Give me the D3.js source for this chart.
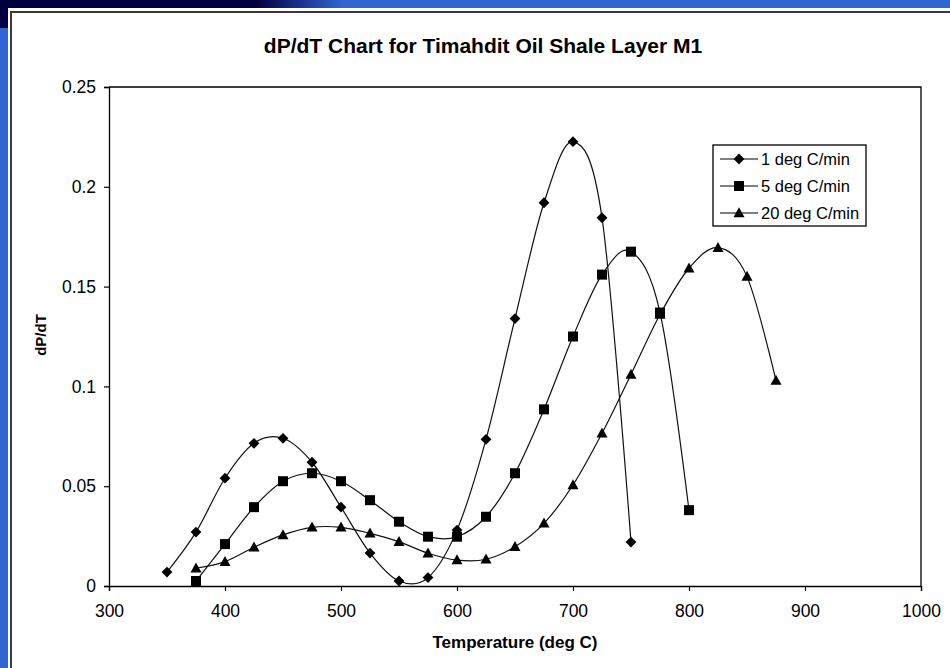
<!DOCTYPE html>
<html>
<head>
<meta charset="utf-8">
<script src="https://cdn.jsdelivr.net/npm/d3@7/dist/d3.min.js"></script>
<style>
  html, body { margin: 0; padding: 0; background: #fff; }
  svg { display: block; }
  text { font-family: "Liberation Sans", Arial, sans-serif; fill: #000; }
</style>
</head>
<body>
<svg id="chart" width="950" height="668"></svg>
<script>
// ---- data ----
const chartTitle = "dP/dT Chart for Timahdit Oil Shale Layer M1";
const xTitle = "Temperature (deg C)";
const yTitle = "dP/dT";
const seriesNames = ["1 deg C/min", "5 deg C/min", "20 deg C/min"];

const temps1 = [350, 375, 400, 425, 450, 475, 500, 525, 550, 575, 600, 625, 650, 675, 700, 725, 750];
const rate1  = [0.007, 0.027, 0.054, 0.0715, 0.074, 0.062, 0.0395, 0.0165, 0.0025, 0.0042, 0.028, 0.0735, 0.134, 0.192, 0.2226, 0.1845, 0.022];

const temps2 = [375, 400, 425, 450, 475, 500, 525, 550, 575, 600, 625, 650, 675, 700, 725, 750, 775, 800];
const rate2  = [0.0025, 0.021, 0.0395, 0.0525, 0.0565, 0.0525, 0.043, 0.0322, 0.0247, 0.0247, 0.0347, 0.0565, 0.0885, 0.125, 0.156, 0.1675, 0.137, 0.038];

const temps3 = [375, 400, 425, 450, 475, 500, 525, 550, 575, 600, 625, 650, 675, 700, 725, 750, 775, 800, 825, 850, 875];
const rate3  = [0.0089, 0.0122, 0.0194, 0.0256, 0.0294, 0.0294, 0.0264, 0.0222, 0.0164, 0.013, 0.0134, 0.0197, 0.0314, 0.0506, 0.0765, 0.106, 0.136, 0.1592, 0.1695, 0.155, 0.103];

const xTicks = [300, 400, 500, 600, 700, 800, 900, 1000];
const yTicks = [0, 0.05, 0.1, 0.15, 0.2, 0.25];
const yTickLabels = ["0", "0.05", "0.1", "0.15", "0.2", "0.25"];

// ---- drawing ----
const svg = d3.select("#chart");
const FONT = "'Liberation Sans', Arial, sans-serif";

// slide background
svg.append("rect").attr("x", 0).attr("y", 0).attr("width", 950).attr("height", 668).attr("fill", "#3165d0");
const defs = svg.append("defs");
const grad = defs.append("linearGradient").attr("id", "band").attr("x1", "0").attr("x2", "1").attr("y1", "0").attr("y2", "0");
grad.append("stop").attr("offset", "0").attr("stop-color", "#000040");
grad.append("stop").attr("offset", "0.27").attr("stop-color", "#000040");
grad.append("stop").attr("offset", "0.36").attr("stop-color", "#3165d0");
grad.append("stop").attr("offset", "1").attr("stop-color", "#3165d0");
svg.append("rect").attr("x", 0).attr("y", 0).attr("width", 950).attr("height", 8).attr("fill", "url(#band)");
svg.append("rect").attr("x", 0).attr("y", 0).attr("width", 8).attr("height", 28).attr("fill", "#000040");

// chart area
svg.append("rect").attr("x", 8).attr("y", 8).attr("width", 942).attr("height", 660).attr("fill", "#fff");
svg.append("rect").attr("x", 11).attr("y", 12).attr("width", 960).attr("height", 700)
  .attr("fill", "none").attr("stroke", "#3a3a3a").attr("stroke-width", 2);

const pLeft = 109, pRight = 921, pTop = 87, pBottom = 586;
const x = d3.scaleLinear().domain([300, 1000]).range([pLeft, pRight]);
const y = d3.scaleLinear().domain([0, 0.25]).range([pBottom, pTop]);

// plot frame (top & right)
svg.append("path")
  .attr("d", `M${pLeft},${pTop}H${pRight}V${pBottom}`)
  .attr("fill", "none").attr("stroke", "#000").attr("stroke-width", 1.3);

// axes
const yAxis = svg.append("g").attr("transform", `translate(${pLeft},0)`)
  .call(d3.axisLeft(y).tickValues(yTicks).tickSize(5).tickPadding(8)
    .tickFormat((d, i) => yTickLabels[i]));
const xAxis = svg.append("g").attr("transform", `translate(0,${pBottom})`)
  .call(d3.axisBottom(x).tickValues(xTicks).tickSize(5).tickPadding(14)
    .tickFormat(d3.format("d")));
[yAxis, xAxis].forEach(g => {
  g.select(".domain").attr("stroke", "#000").attr("stroke-width", 1.3);
  g.selectAll(".tick line").attr("stroke", "#000").attr("stroke-width", 1.2);
  g.selectAll("text").style("font-family", FONT).style("font-size", "17.5px").attr("fill", "#000");
});

// titles
svg.append("text").attr("x", 483).attr("y", 53).attr("text-anchor", "middle")
  .style("font-size", "21px").style("font-weight", "bold").text(chartTitle);
svg.append("text").attr("x", 515).attr("y", 648).attr("text-anchor", "middle")
  .style("font-size", "17px").style("font-weight", "bold").text(xTitle);
svg.append("text").attr("transform", "translate(46,335) rotate(-90)").attr("text-anchor", "middle")
  .style("font-size", "15px").style("font-weight", "bold").text(yTitle);

// Excel-like marker shapes
const diamond = { draw(ctx, size) { const r = Math.sqrt(size) / 2 * 1.2;
  ctx.moveTo(0, -r); ctx.lineTo(r, 0); ctx.lineTo(0, r); ctx.lineTo(-r, 0); ctx.closePath(); } };
const square = { draw(ctx, size) { const h = Math.sqrt(size) / 2;
  ctx.rect(-h, -h, 2 * h, 2 * h); } };
const triangle = { draw(ctx, size) { const h = Math.sqrt(size) / 2;
  ctx.moveTo(0, -h * 1.15); ctx.lineTo(h * 1.1, h * 0.85); ctx.lineTo(-h * 1.1, h * 0.85); ctx.closePath(); } };
const symbols = [diamond, square, triangle];
const symSizes = [81, 100, 100];

const series = [
  { t: temps1, v: rate1 },
  { t: temps2, v: rate2 },
  { t: temps3, v: rate3 }
];
const line = d3.line().x(d => x(d[0])).y(d => y(d[1])).curve(d3.curveCardinal.tension(0));

series.forEach((s, k) => {
  const pts = s.t.map((t, i) => [t, s.v[i]]);
  svg.append("path").datum(pts).attr("d", line)
    .attr("fill", "none").attr("stroke", "#111").attr("stroke-width", 1.2);
});
series.forEach((s, k) => {
  const pts = s.t.map((t, i) => [t, s.v[i]]);
  svg.append("g").selectAll("path").data(pts).join("path")
    .attr("transform", d => `translate(${x(d[0])},${y(d[1])})`)
    .attr("d", d3.symbol().type(symbols[k]).size(symSizes[k]))
    .attr("fill", "#000");
});

// legend
const lg = svg.append("g").attr("transform", "translate(713,145)");
lg.append("rect").attr("x", 0).attr("y", 0).attr("width", 153).attr("height", 81)
  .attr("fill", "#fff").attr("stroke", "#000").attr("stroke-width", 1.3);
seriesNames.forEach((name, k) => {
  const yy = 14 + k * 27;
  lg.append("line").attr("x1", 7).attr("x2", 45).attr("y1", yy).attr("y2", yy)
    .attr("stroke", "#000").attr("stroke-width", 1.2);
  lg.append("path").attr("transform", `translate(26,${yy})`)
    .attr("d", d3.symbol().type(symbols[k]).size(symSizes[k])).attr("fill", "#000");
  lg.append("text").attr("x", 48).attr("y", yy + 6).style("font-size", "16.5px").text(name);
});
</script>
</body>
</html>
